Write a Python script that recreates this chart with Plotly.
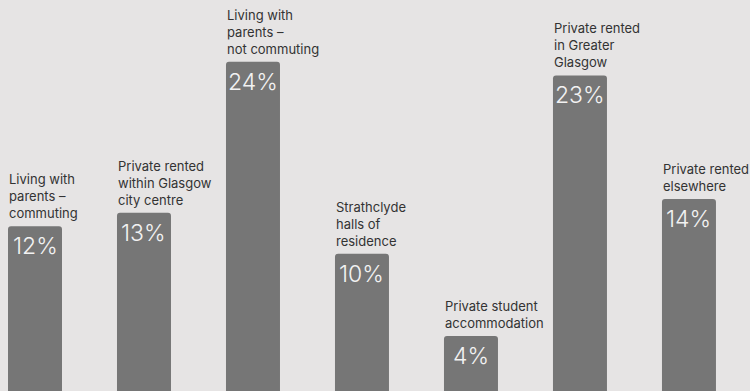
import plotly.graph_objects as go

categories = [
    "Living with<br>parents –<br>commuting",
    "Private rented<br>within Glasgow<br>city centre",
    "Living with<br>parents –<br>not commuting",
    "Strathclyde<br>halls of<br>residence",
    "Private student<br>accommodation",
    "Private rented<br>in Greater<br>Glasgow",
    "Private rented<br>elsewhere",
]
values = [12, 13, 24, 10, 4, 23, 14]
value_labels = ["12%", "13%", "24%", "10%", "4%", "23%", "14%"]

BG = "#e6e4e4"
BAR = "#767676"
FONT = "Inter"

x_idx = list(range(len(categories)))

fig = go.Figure()
fig.add_trace(go.Bar(
    x=x_idx, y=values, width=0.4954,
    marker=dict(color=BAR, line=dict(width=0)),
    hoverinfo="skip",
))

annotations = []
for i, (cat, v, lab) in enumerate(zip(categories, values, value_labels)):
    annotations.append(dict(
        x=i, y=v, xref="x", yref="y", text=cat, showarrow=False,
        xanchor="left", yanchor="bottom", align="left",
        xshift=-27, yshift=4, borderpad=0,
        font=dict(family=FONT, size=13, color="#333333"),
    ))
    annotations.append(dict(
        x=i, y=v, xref="x", yref="y", text=lab, showarrow=False,
        xanchor="center", yanchor="middle",
        yshift=-20, borderpad=0,
        font=dict(family=FONT, size=23, color="#f2f2f2", weight=300),
    ))

fig.update_layout(
    width=750, height=391,
    margin=dict(l=0, r=0, t=0, b=0),
    paper_bgcolor=BG, plot_bgcolor=BG,
    barcornerradius=3,
    showlegend=False,
    xaxis=dict(range=[-0.3211, 6.560], visible=False, fixedrange=True),
    yaxis=dict(range=[0, 28.5], visible=False, fixedrange=True),
    annotations=annotations,
)

fig.write_html("out.html")
